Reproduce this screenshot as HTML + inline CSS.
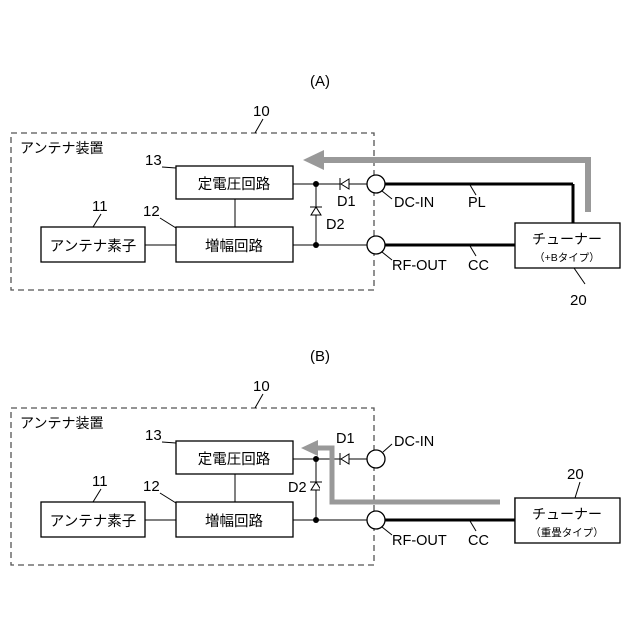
<!DOCTYPE html>
<html><head><meta charset="utf-8"><style>body{margin:0;background:#fff}svg{display:block}text{font-family:"Liberation Sans","Noto Sans CJK JP",sans-serif;fill:#000}</style></head><body>
<svg width="640" height="640" viewBox="0 0 640 640">
<defs>
<g id="blk">
<rect x="11" y="133" width="363" height="157" fill="none" stroke="#555" stroke-width="1.3" stroke-dasharray="6,4"/>
<text x="20" y="153" font-size="14">アンテナ装置</text>
<text x="253" y="116" font-size="15">10</text><line x1="263" y1="119" x2="255" y2="133" stroke="#000"/>
<rect x="176" y="166" width="117" height="33" fill="#fff" stroke="#000" stroke-width="1.3"/>
<text x="234" y="189" font-size="14.5" text-anchor="middle">定電圧回路</text>
<rect x="176" y="227" width="117" height="35" fill="#fff" stroke="#000" stroke-width="1.3"/>
<text x="234" y="251" font-size="14.5" text-anchor="middle">増幅回路</text>
<rect x="41" y="227" width="104" height="35" fill="#fff" stroke="#000" stroke-width="1.3"/>
<text x="93" y="251" font-size="14.5" text-anchor="middle">アンテナ素子</text>
<line x1="145" y1="245" x2="176" y2="245" stroke="#000"/>
<line x1="235" y1="199" x2="235" y2="227" stroke="#000"/>
<text x="145" y="165" font-size="15">13</text><line x1="162" y1="167" x2="176" y2="168" stroke="#000"/>
<text x="92" y="211" font-size="15">11</text><line x1="101" y1="214" x2="93" y2="227" stroke="#000"/>
<text x="143" y="216" font-size="15">12</text><line x1="160" y1="218" x2="176" y2="228" stroke="#000"/>
<line x1="293" y1="184" x2="367" y2="184" stroke="#000"/>
<line x1="293" y1="245" x2="367" y2="245" stroke="#000"/>
<line x1="316" y1="184" x2="316" y2="245" stroke="#000"/>
<circle cx="316" cy="184" r="3"/><circle cx="316" cy="245" r="3"/>
<polygon points="341,184 349,179 349,189" fill="#fff" stroke="#000"/><line x1="340" y1="178" x2="340" y2="190" stroke="#000"/>
<polygon points="316,207 311,215 321,215" fill="#fff" stroke="#000"/><line x1="310" y1="207" x2="322" y2="207" stroke="#000"/>
<circle cx="376" cy="184" r="9" fill="#fff" stroke="#000" stroke-width="1.3"/>
<circle cx="376" cy="245" r="9" fill="#fff" stroke="#000" stroke-width="1.3"/>
<line x1="385" y1="245" x2="515" y2="245" stroke="#000" stroke-width="3"/>
<line x1="382" y1="252" x2="392" y2="260" stroke="#000"/>
<text x="392" y="270" font-size="14.5">RF-OUT</text>
<text x="468" y="270" font-size="14.5">CC</text><line x1="470" y1="246" x2="476" y2="256" stroke="#000"/>
<rect x="515" y="223" width="105" height="45" fill="#fff" stroke="#000" stroke-width="1.3"/>
<text x="567" y="244" font-size="14" text-anchor="middle">チューナー</text>
</g>
</defs>
<text x="320" y="86" font-size="15" text-anchor="middle">(A)</text>
<use href="#blk"/>
<line x1="385" y1="184" x2="573" y2="184" stroke="#000" stroke-width="3"/>
<line x1="573" y1="184" x2="573" y2="223" stroke="#000" stroke-width="3"/>
<line x1="382" y1="191" x2="392" y2="199" stroke="#000"/>
<text x="394" y="207" font-size="14.5">DC-IN</text>
<text x="468" y="207" font-size="14.5">PL</text><line x1="470" y1="185" x2="476" y2="195" stroke="#000"/>
<text x="337" y="206" font-size="14.5">D1</text>
<text x="326" y="229" font-size="14.5">D2</text>
<polyline points="588,212 588,160 322,160" fill="none" stroke="#999" stroke-width="6"/>
<polygon points="303,160 324,150 324,170" fill="#999"/>
<text x="567" y="261" font-size="10.5" text-anchor="middle">（+Bタイプ）</text>
<line x1="574" y1="268" x2="585" y2="284" stroke="#000"/>
<text x="570" y="305" font-size="15">20</text>

<text x="320" y="361" font-size="15" text-anchor="middle">(B)</text>
<use href="#blk" y="275"/>
<rect x="515" y="475" width="106" height="70" fill="#fff"/>
<rect x="515" y="498" width="105" height="45" fill="#fff" stroke="#000" stroke-width="1.3"/>
<text x="567" y="519" font-size="14" text-anchor="middle">チューナー</text>
<text x="567" y="536" font-size="10.5" text-anchor="middle">（重畳タイプ）</text>
<line x1="385" y1="520" x2="515" y2="520" stroke="#000" stroke-width="3"/>
<rect x="560" y="545" width="40" height="20" fill="#fff"/>
<line x1="580" y1="482" x2="575" y2="498" stroke="#000"/>
<text x="567" y="479" font-size="15">20</text>
<line x1="383" y1="452" x2="392" y2="444" stroke="#000"/>
<text x="394" y="446" font-size="14.5">DC-IN</text>
<text x="336" y="443" font-size="14.5">D1</text>
<text x="288" y="492" font-size="14.5">D2</text>
<rect x="320" y="485" width="14" height="14" fill="#fff"/>
<polyline points="500,502 332,502 332,448 318,448" fill="none" stroke="#999" stroke-width="5"/>
<polygon points="301,448 318,440 318,456" fill="#999"/>
</svg>
</body></html>
